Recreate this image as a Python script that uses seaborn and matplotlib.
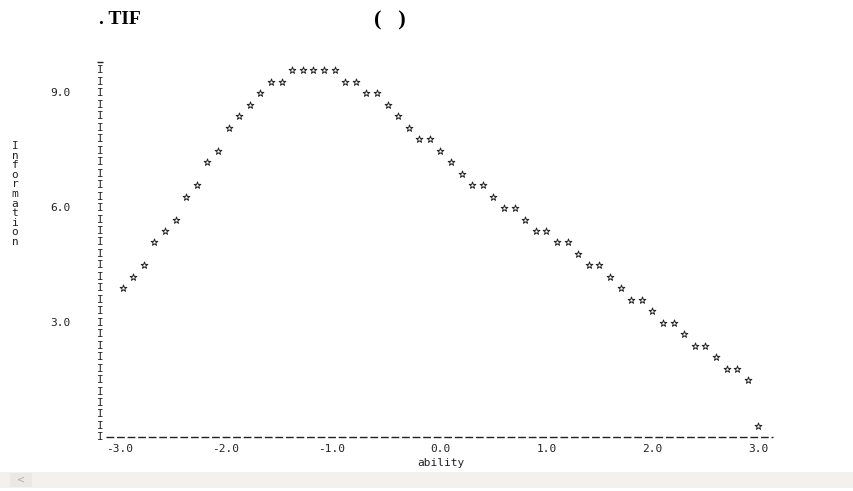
import numpy as np
import pandas as pd
import matplotlib
matplotlib.use("Agg")
import matplotlib.pyplot as plt
import seaborn as sns
from matplotlib.patches import Rectangle

# ---------------- data ----------------
ability = [-3.0, -2.9, -2.8, -2.7, -2.6, -2.5, -2.4, -2.3, -2.2, -2.1,
           -2.0, -1.9, -1.8, -1.7, -1.6, -1.5, -1.4, -1.3, -1.2, -1.1,
           -1.0, -0.9, -0.8, -0.7, -0.6, -0.5, -0.4, -0.3, -0.2, -0.1,
           0.0, 0.1, 0.2, 0.3, 0.4, 0.5, 0.6, 0.7, 0.8, 0.9,
           1.0, 1.1, 1.2, 1.3, 1.4, 1.5, 1.6, 1.7, 1.8, 1.9,
           2.0, 2.1, 2.2, 2.3, 2.4, 2.5, 2.6, 2.7, 2.8, 2.9, 3.0]
information = [3.9, 4.2, 4.5, 5.1, 5.4, 5.7, 6.3, 6.6, 7.2, 7.5,
               8.1, 8.4, 8.7, 9.0, 9.3, 9.3, 9.6, 9.6, 9.6, 9.6,
               9.6, 9.3, 9.3, 9.0, 9.0, 8.7, 8.4, 8.1, 7.8, 7.8,
               7.5, 7.2, 6.9, 6.6, 6.6, 6.3, 6.0, 6.0, 5.7, 5.4,
               5.4, 5.1, 5.1, 4.8, 4.5, 4.5, 4.2, 3.9, 3.6, 3.6,
               3.3, 3.0, 3.0, 2.7, 2.4, 2.4, 2.1, 1.8, 1.8, 1.5, 0.3]
x_ticks = [-3.0, -2.0, -1.0, 0.0, 1.0, 2.0, 3.0]
x_tick_labels = ["-3.0", "-2.0", "-1.0", "0.0", "1.0", "2.0", "3.0"]
y_ticks = [3.0, 6.0, 9.0]
y_tick_labels = ["3.0", "6.0", "9.0"]
x_label = "ability"
y_label = "Information"
title_left = ". TIF"
title_right = "(   )"

df = pd.DataFrame({"ability": ability, "information": information})

# ---------------- layout (pixel mapping of the reference) ----------------
W, H = 854, 491
X0_PX, PX_PER_X = 122.7, 105.93   # pixel of ability = -3.0, px per unit
Y0_PX, PX_PER_Y = 437.4, 38.22    # pixel (from top) of information = 0

def dx(px):
    return -3.0 + (px - X0_PX) / PX_PER_X

def dy(py):
    return (Y0_PX - py) / PX_PER_Y

sns.set_theme(style="white")
plt.rcParams["font.family"] = ["DejaVu Sans Mono", "DejaVu Sans"]

fig = plt.figure(figsize=(W / 100, H / 100), dpi=100)
fig.patch.set_facecolor("white")
ax = fig.add_axes([0, 0, 1, 1])
ax.set_xlim(dx(0), dx(W))
ax.set_ylim(dy(H), dy(0))
ax.axis("off")

mono = "DejaVu Sans Mono"
ink = "#222222"
FS = 8

# stars
sns.scatterplot(data=df, x="ability", y="information", ax=ax, marker="*",
                s=26, facecolor="white", edgecolor=ink, linewidth=0.7,
                zorder=3, legend=False)

# y axis made of "I" characters, one per character row (0.3 units)
for yv in np.arange(0, 9.61, 0.3):
    ax.text(dx(100), yv, "I", ha="center", va="center", family=mono,
            fontsize=8, color=ink)
ax.plot([dx(97), dx(103.5)], [dy(62), dy(62)], color=ink, lw=1.0,
        solid_capstyle="butt")

# x axis made of dashes
ax.plot([dx(106), dx(773)], [0, 0], color=ink, lw=1.0,
        dashes=(5.6, 2.0), solid_capstyle="butt", dash_capstyle="butt")

# x tick labels (decimal point aligned with the tick)
char_w = 0.602 * FS * 100 / 72 / PX_PER_X
for xv, lab in zip(x_ticks, x_tick_labels):
    ax.text(xv + 1.5 * char_w, dy(449), lab, ha="right", va="center",
            family=mono, fontsize=FS, color=ink)
ax.text(dx(441), dy(462.5), x_label, ha="center", va="center",
        family=mono, fontsize=FS, color=ink)

# y tick labels
for yv, lab in zip(y_ticks, y_tick_labels):
    ax.text(dx(60), yv, lab, ha="center", va="center", family=mono,
            fontsize=FS, color=ink)

# vertical stacked y label
ax.text(dx(15), dy(194), "\n".join(y_label), ha="center", va="center",
        family=mono, fontsize=FS, color=ink, linespacing=0.95)

# title fragments
fig.text(120 / W, 1 - 19 / H, title_left, ha="center", va="center",
         family=["Liberation Serif", "DejaVu Serif"], fontweight="bold",
         fontsize=14, color="black")
fig.text(390 / W, 1 - 20 / H, title_right, ha="center", va="center",
         family=["Liberation Serif", "DejaVu Serif"], fontweight="bold",
         fontsize=16, color="black")

# scrollbar band at the bottom of the screenshot
fig.patches.append(Rectangle((0, 1 - 488 / H), 1, 16 / H,
                             transform=fig.transFigure, facecolor="#f2f1ec",
                             edgecolor="none", zorder=0))
fig.patches.append(Rectangle((10 / W, 1 - 487 / H), 22 / W, 14 / H,
                             transform=fig.transFigure, facecolor="#eae9e4",
                             edgecolor="none", zorder=0))
fig.text(21 / W, 1 - 480 / H, "<", ha="center", va="center",
         fontsize=7, color="#b0b0b0", family=["DejaVu Sans"])

fig.savefig("out.png", dpi=100, facecolor="white")
